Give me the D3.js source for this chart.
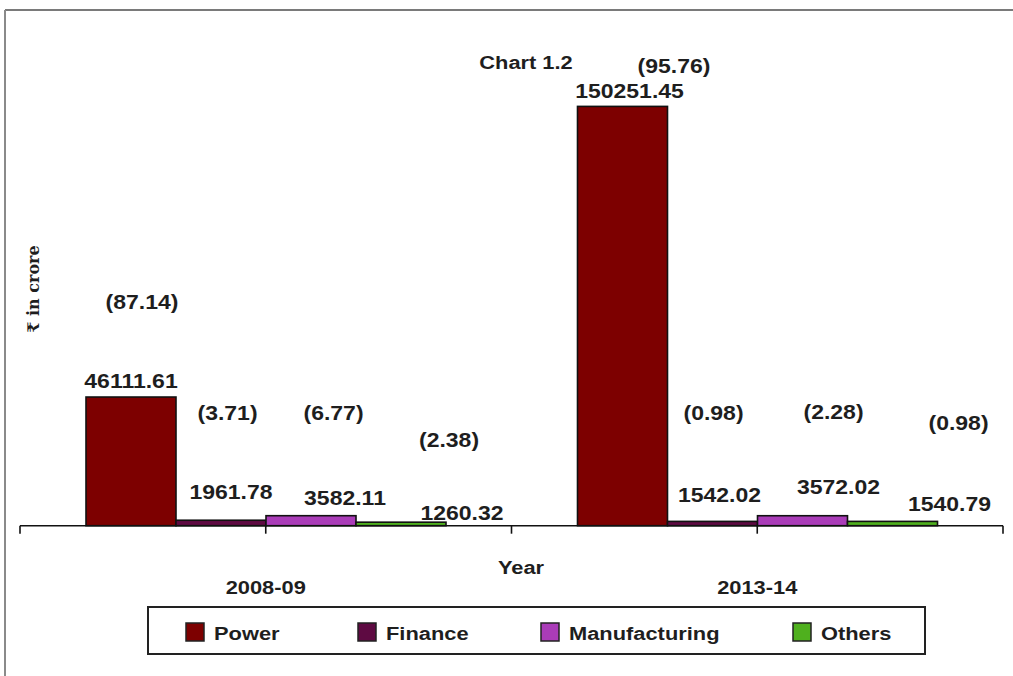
<!DOCTYPE html>
<html>
<head>
<meta charset="utf-8">
<script src="https://cdn.jsdelivr.net/npm/d3@7"></script>
<style>
  html, body { margin: 0; padding: 0; background: #fff; }
  svg { display: block; }
  text { font-family: "Liberation Sans", Arial, sans-serif; font-weight: bold; fill: #1e1e1e; }
</style>
</head>
<body>
<svg id="chart" width="1013" height="676"></svg>
<script>
// ---- data ----
const years = ["2008-09", "2013-14"];
const sectors = ["Power", "Finance", "Manufacturing", "Others"];
const values2008 = [46111.61, 1961.78, 3582.11, 1260.32];
const values2013 = [150251.45, 1542.02, 3572.02, 1540.79];
const share2008 = ["(87.14)", "(3.71)", "(6.77)", "(2.38)"];
const share2013 = ["(95.76)", "(0.98)", "(2.28)", "(0.98)"];
const colors = ["#7d0000", "#5e0a42", "#aa3cb8", "#4fb01e"];
const title = "Chart 1.2";
const xTitle = "Year";
const yTitle = "₹ in crore";

// ---- label layout (manual annotation offsets from each bar's top-centre) ----
const valueLabelOffsets = [
  [[0, -16], [10, -28], [34, -18], [61, -9]],
  [[7, -15], [7, -26], [36, -29], [57, -17]]
];
const shareLabelOffsets = [
  [[11, -95], [6.5, -107], [22.5, -103], [48, -82]],
  [[51.5, -40], [1, -108], [31, -104], [66, -98]]
];

const seriesValues = [values2008, values2013];
const seriesShares = [share2008, share2013];

const svg = d3.select("#chart");
const SX = 1.15; // horizontal stretch of the scanned text

function stretchedText(parent, x, y, str, size, anchor) {
  const g = parent.append("g").attr("transform", `translate(${x},${y}) scale(${SX},1)`);
  g.append("text")
    .attr("text-anchor", anchor || "middle")
    .attr("dominant-baseline", "central")
    .style("font-size", size + "px")
    .text(str);
  return g;
}

// frame
svg.append("line").attr("x1", 5).attr("x2", 1013).attr("y1", 10).attr("y2", 10)
  .attr("stroke", "#7a7a7a").attr("stroke-width", 2);
svg.append("line").attr("x1", 5).attr("x2", 5).attr("y1", 10).attr("y2", 676)
  .attr("stroke", "#8a8a8a").attr("stroke-width", 2);

// scales
const x0 = d3.scaleBand().domain(years).range([20, 1003]).padding(0);
const x1 = d3.scaleBand().domain(sectors).range([66, 426]).padding(0);
const y = d3.scaleLinear().domain([0, 160000]).range([525.7, 79.2]);

// bars
years.forEach((yr, i) => {
  const g = svg.append("g").attr("transform", `translate(${x0(yr)},0)`);
  g.selectAll("rect").data(sectors).join("rect")
    .attr("x", s => x1(s))
    .attr("width", x1.bandwidth())
    .attr("y", (s, j) => y(seriesValues[i][j]))
    .attr("height", (s, j) => y(0) - y(seriesValues[i][j]))
    .attr("fill", (s, j) => colors[j])
    .attr("stroke", "#111")
    .attr("stroke-width", 1.6);
});

// x axis
const axisY = y(0);
svg.append("line").attr("x1", 20).attr("x2", 1003).attr("y1", axisY).attr("y2", axisY)
  .attr("stroke", "#111").attr("stroke-width", 1.6);
const tickPos = [];
years.forEach(yr => { tickPos.push(x0(yr)); tickPos.push(x0(yr) + x0.bandwidth() / 2); });
tickPos.push(x0.range()[1]);
svg.selectAll("line.tick").data(tickPos).join("line").attr("class", "tick")
  .attr("x1", d => d).attr("x2", d => d).attr("y1", axisY).attr("y2", axisY + 8)
  .attr("stroke", "#111").attr("stroke-width", 1.6);

// category labels
years.forEach(yr => stretchedText(svg, x0(yr) + x0.bandwidth() / 2, 587, yr, 19));
stretchedText(svg, 521, 567, xTitle, 19);
stretchedText(svg, 526, 62, title, 19);

// value and share labels
years.forEach((yr, i) => {
  sectors.forEach((s, j) => {
    const cx = x0(yr) + x1(s) + x1.bandwidth() / 2;
    const top = y(seriesValues[i][j]);
    const vo = valueLabelOffsets[i][j];
    const so = shareLabelOffsets[i][j];
    stretchedText(svg, cx + vo[0], top + vo[1], seriesValues[i][j].toFixed(2), 20);
    stretchedText(svg, cx + so[0], top + so[1], seriesShares[i][j], 20);
  });
});

// y title
svg.append("text")
  .attr("transform", "translate(33,289) rotate(-90)")
  .attr("text-anchor", "middle")
  .attr("dominant-baseline", "central")
  .style("font-family", "'DejaVu Serif', 'Liberation Serif', serif")
  .style("font-size", "16px")
  .text(yTitle);

// legend
svg.append("rect").attr("x", 148).attr("y", 607).attr("width", 777).attr("height", 47)
  .attr("fill", "#fff").attr("stroke", "#222").attr("stroke-width", 2);
const legendX = [186, 358, 541, 793];
sectors.forEach((s, j) => {
  svg.append("rect").attr("x", legendX[j]).attr("y", 623).attr("width", 18).attr("height", 18)
    .attr("fill", colors[j]).attr("stroke", "#222").attr("stroke-width", 1.5);
  stretchedText(svg, legendX[j] + 28, 633, s, 19, "start");
});
</script>
</body>
</html>
